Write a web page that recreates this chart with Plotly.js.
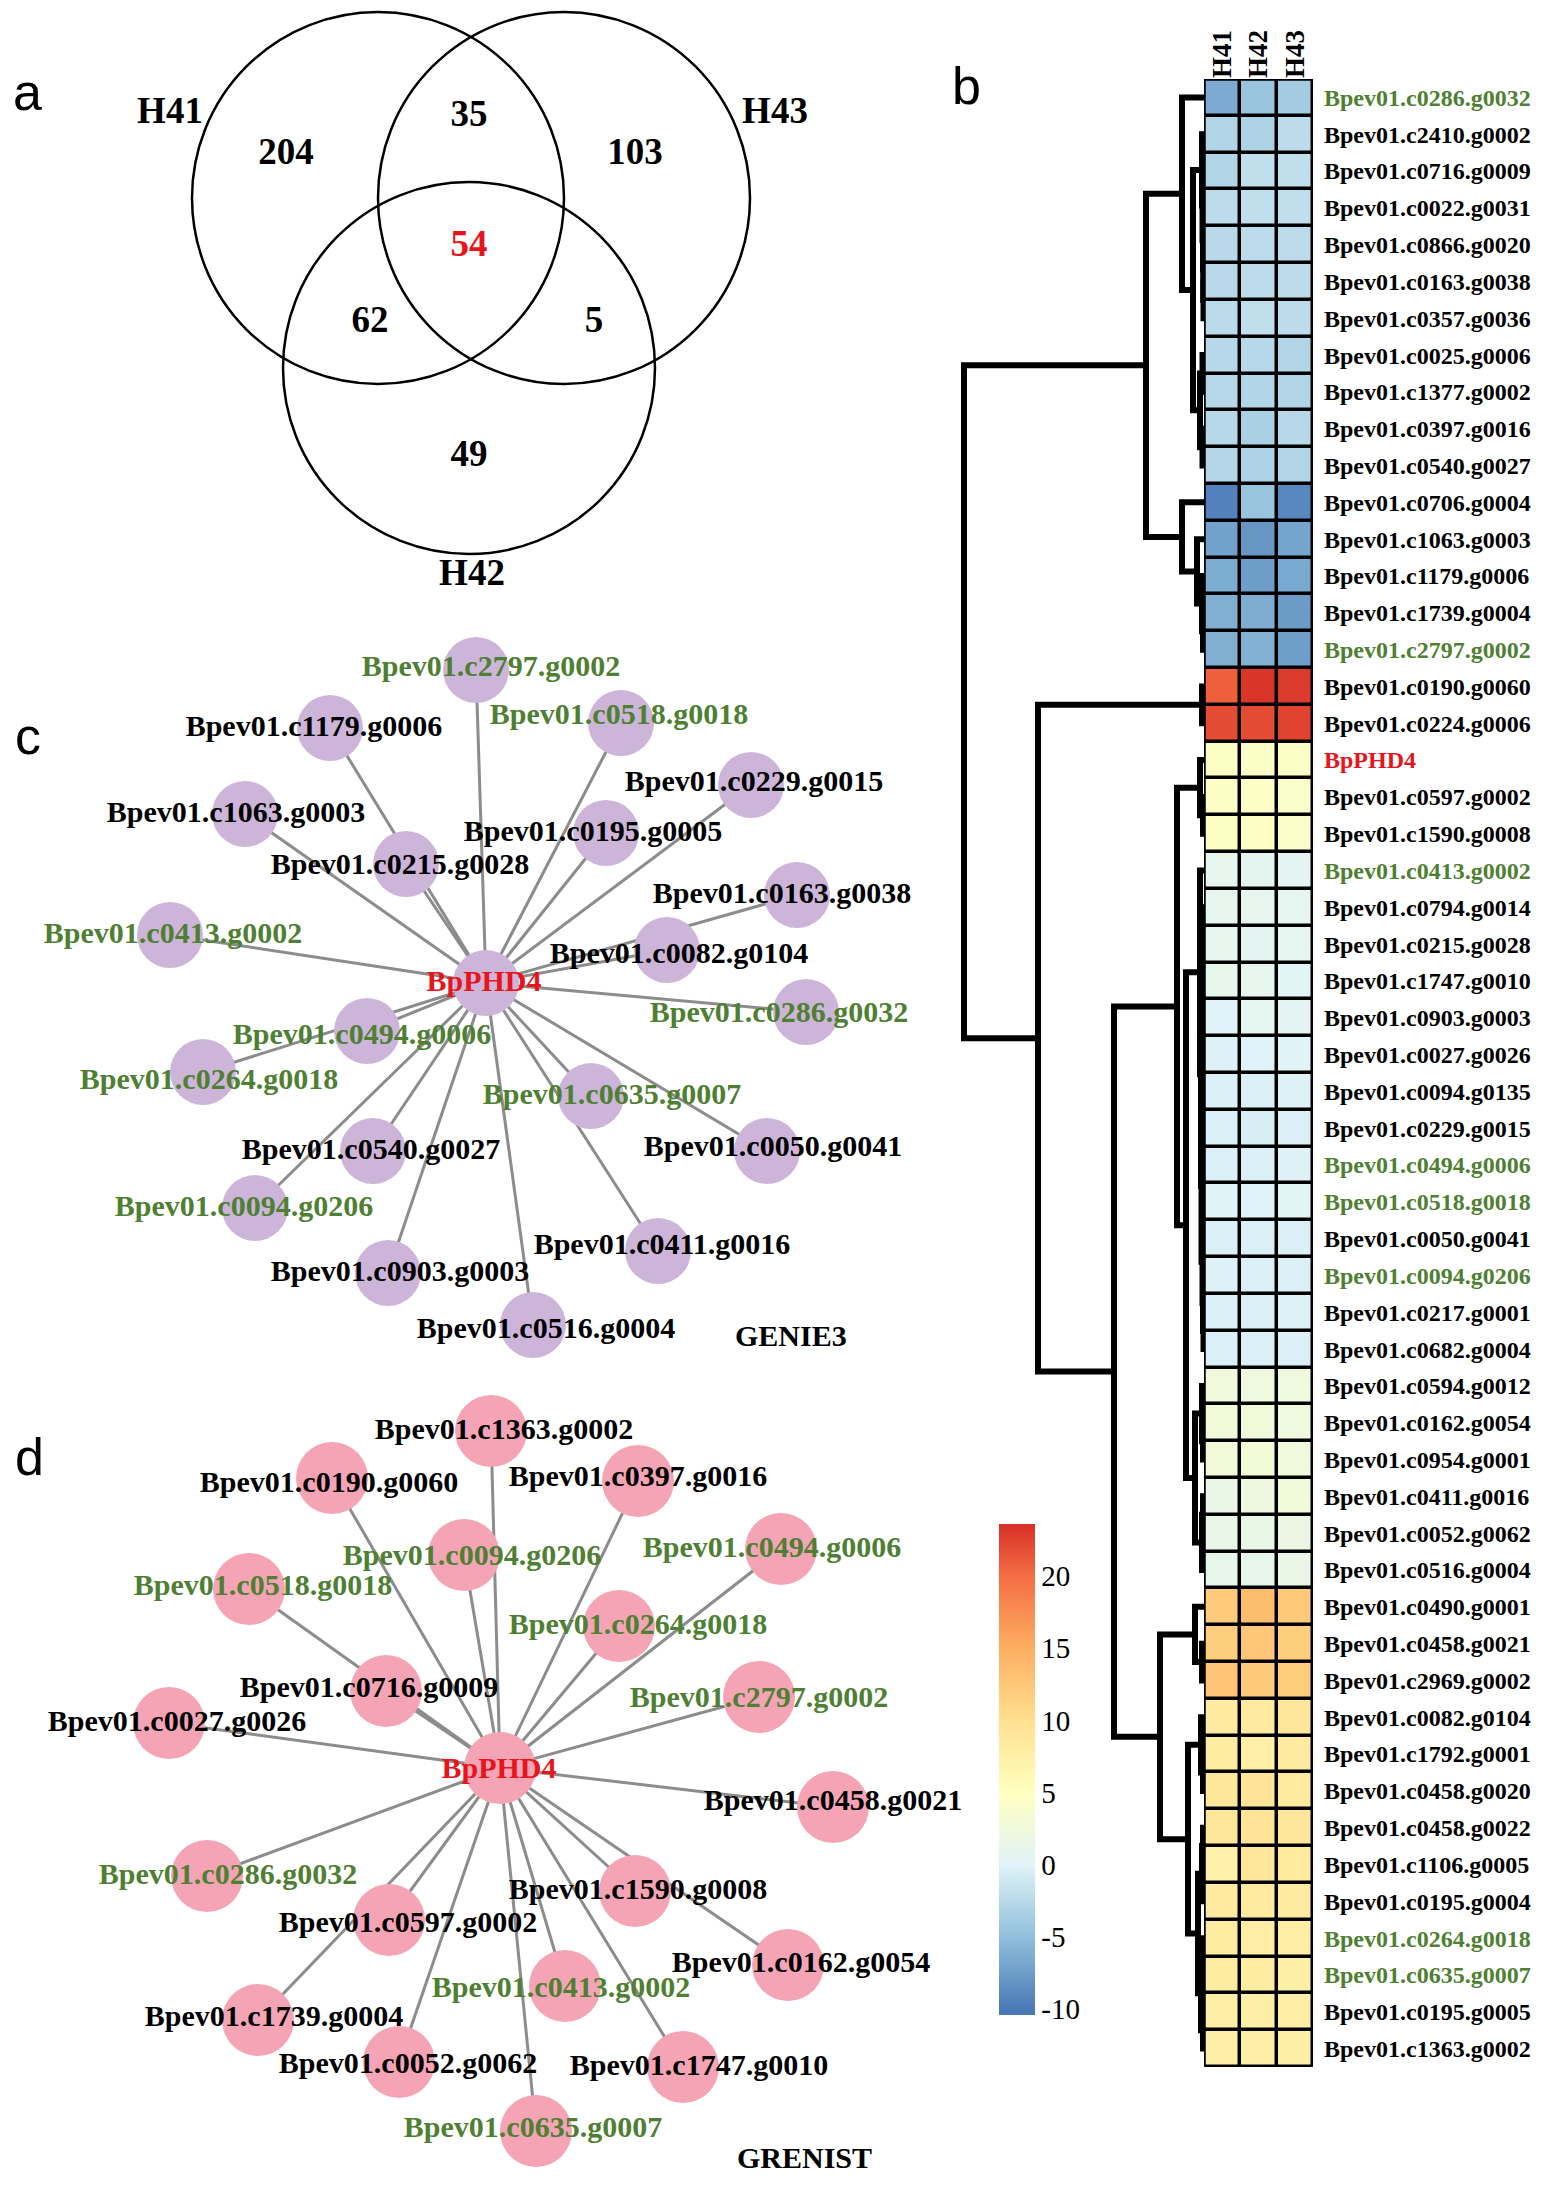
<!DOCTYPE html>
<html><head><meta charset="utf-8">
<script src="https://cdn.plot.ly/plotly-3.0.1.min.js"></script>
<style>html,body{margin:0;padding:0;background:#fff}#fig{width:1546px;height:2185px}</style>
</head><body><div id="fig"></div>
<script>
// ================= DATA =================
// Venn (panel a)
const vennSets = ['H41', 'H43', 'H42'];
const vennRegions = ['H41', 'H43', 'H42', 'H41&H43', 'H41&H42', 'H42&H43', 'H41&H42&H43'];
const vennCounts = [204, 103, 49, 35, 62, 5, 54];

// Heatmap (panel b)
const samples = ['H41', 'H42', 'H43'];
const genes = [
 'Bpev01.c0286.g0032','Bpev01.c2410.g0002','Bpev01.c0716.g0009','Bpev01.c0022.g0031','Bpev01.c0866.g0020',
 'Bpev01.c0163.g0038','Bpev01.c0357.g0036','Bpev01.c0025.g0006','Bpev01.c1377.g0002','Bpev01.c0397.g0016',
 'Bpev01.c0540.g0027','Bpev01.c0706.g0004','Bpev01.c1063.g0003','Bpev01.c1179.g0006','Bpev01.c1739.g0004',
 'Bpev01.c2797.g0002','Bpev01.c0190.g0060','Bpev01.c0224.g0006','BpPHD4','Bpev01.c0597.g0002',
 'Bpev01.c1590.g0008','Bpev01.c0413.g0002','Bpev01.c0794.g0014','Bpev01.c0215.g0028','Bpev01.c1747.g0010',
 'Bpev01.c0903.g0003','Bpev01.c0027.g0026','Bpev01.c0094.g0135','Bpev01.c0229.g0015','Bpev01.c0494.g0006',
 'Bpev01.c0518.g0018','Bpev01.c0050.g0041','Bpev01.c0094.g0206','Bpev01.c0217.g0001','Bpev01.c0682.g0004',
 'Bpev01.c0594.g0012','Bpev01.c0162.g0054','Bpev01.c0954.g0001','Bpev01.c0411.g0016','Bpev01.c0052.g0062',
 'Bpev01.c0516.g0004','Bpev01.c0490.g0001','Bpev01.c0458.g0021','Bpev01.c2969.g0002','Bpev01.c0082.g0104',
 'Bpev01.c1792.g0001','Bpev01.c0458.g0020','Bpev01.c0458.g0022','Bpev01.c1106.g0005','Bpev01.c0195.g0004',
 'Bpev01.c0264.g0018','Bpev01.c0635.g0007','Bpev01.c0195.g0005','Bpev01.c1363.g0002'];
const h41 = [-6.5,-3.0,-3.0,-2.2,-2.5,-2.5,-2.4,-2.6,-2.7,-2.6,-2.8,
 -9.5,-7.2,-6.4,-6.2,-6.2, 20.8,22.0, 4.6,4.5,4.7,
 1.0,0.9,1.0,1.2,0.0,-0.2,-0.4,-0.4,-0.4,0.2,-0.3,-0.2,-0.4,-0.4,
 2.5,2.6,2.7,1.6,1.4,1.2, 12.2,11.8,12.8,
 8.2,8.0,8.8,9.0,7.2,8.2,8.0,8.1,7.8,7.9];
const h42 = [-4.5,-3.2,-2.0,-2.0,-2.3,-2.2,-2.0,-2.6,-2.9,-3.4,-3.2,
 -4.5,-8.0,-7.5,-6.3,-6.0, 23.3,22.0, 4.4,4.5,4.6,
 0.7,1.0,0.6,1.0,0.8,-0.1,-0.3,-0.5,-0.3,0.0,-0.4,-0.4,-0.4,-0.3,
 2.4,2.6,3.0,2.2,1.5,1.2, 13.5,12.6,12.3,
 8.4,7.4,9.3,9.4,8.8,8.4,7.8,8.0,7.6,7.6];
const h43 = [-3.8,-2.2,-2.0,-2.0,-2.2,-2.2,-2.2,-3.0,-3.0,-2.6,-3.0,
 -9.0,-7.0,-6.6,-7.6,-7.4, 23.0,22.5, 4.3,4.0,4.2,
 0.6,0.8,0.8,0.4,0.6,0.2,-0.2,-0.3,-0.2,0.3,-0.3,-0.3,-0.2,-0.3,
 2.3,2.4,2.5,2.6,1.8,1.6, 12.3,11.8,12.0,
 8.8,8.2,8.4,8.8,8.6,8.2,7.9,7.6,7.8,7.6];
const colorTickVals = [-10, -5, 0, 5, 10, 15, 20];
const colorTickText = ['-10', '-5', '0', '5', '10', '15', '20'];
// Row dendrogram: [mergeHeight, left, right]; leaves are row indices
const dendroTree = [240,
  [58,
    [22, 0, [11, [2, 1, [1.5, 2, [1, 3, [0.8, 4, [0.5, 5, 6]]]]], [4, [1.5, 7, 8], [1.5, 9, 10]]]],
    [22, 11, [7, 12, [2, 13, [1, 14, 15]]]]
  ],
  [166,
    [2, 16, 17],
    [90,
      [27,
        [4, 18, [1, 19, 20]],
        [18,
          [4, 21, [3, [2, [1, 22, 23], [1, 24, 25]], [2.5, [1.5, [1, 26, 27], [1, 28, 29]], [1.5, [1, 30, 31], [1, 32, [0.5, 33, 34]]]]]],
          [9, [2, 35, [1, 36, 37]], [2, [1, 38, 39], 40]]
        ]
      ],
      [44,
        [9, 41, [2, 42, 43]],
        [16, [3, 44, [1, 45, 46]], [6, [2, [1, 47, 48], 49], [3, [1, 50, 51], [1, 52, 53]]]]
      ]
    ]
  ]
];

// Networks (panels c, d)
const hubGene = 'BpPHD4';
const genieTargets = ['Bpev01.c2797.g0002','Bpev01.c1179.g0006','Bpev01.c0518.g0018','Bpev01.c0229.g0015',
 'Bpev01.c1063.g0003','Bpev01.c0195.g0005','Bpev01.c0215.g0028','Bpev01.c0163.g0038','Bpev01.c0413.g0002',
 'Bpev01.c0082.g0104','Bpev01.c0286.g0032','Bpev01.c0494.g0006','Bpev01.c0264.g0018','Bpev01.c0635.g0007',
 'Bpev01.c0540.g0027','Bpev01.c0050.g0041','Bpev01.c0094.g0206','Bpev01.c0411.g0016','Bpev01.c0903.g0003',
 'Bpev01.c0516.g0004'];
const grenistTargets = ['Bpev01.c1363.g0002','Bpev01.c0190.g0060','Bpev01.c0397.g0016','Bpev01.c0094.g0206',
 'Bpev01.c0494.g0006','Bpev01.c0518.g0018','Bpev01.c0264.g0018','Bpev01.c0716.g0009','Bpev01.c2797.g0002',
 'Bpev01.c0027.g0026','Bpev01.c0458.g0021','Bpev01.c0286.g0032','Bpev01.c1590.g0008','Bpev01.c0597.g0002',
 'Bpev01.c0162.g0054','Bpev01.c0413.g0002','Bpev01.c1739.g0004','Bpev01.c0052.g0062','Bpev01.c1747.g0010',
 'Bpev01.c0635.g0007'];

// ================= LAYOUT / STYLE =================
const W = 1546, H = 2185;
const serif = '"Liberation Serif", "Times New Roman", serif';
const sans = '"Liberation Sans", Arial, sans-serif';
const GREEN = '#4f7f33', RED = '#e8141c';

// node layout (page pixels): name -> [nodeX, nodeY, labelX, labelY]
const genieLayout = {
 'BpPHD4':[486,983,484,983],
 'Bpev01.c2797.g0002':[476,670,491,668], 'Bpev01.c1179.g0006':[330,728,314,728],
 'Bpev01.c0518.g0018':[621,723,619,716], 'Bpev01.c0229.g0015':[751,785,754,783],
 'Bpev01.c1063.g0003':[245,814,236,814], 'Bpev01.c0195.g0005':[606,833,593,833],
 'Bpev01.c0215.g0028':[406,864,400,866], 'Bpev01.c0163.g0038':[797,895,782,895],
 'Bpev01.c0413.g0002':[170,935,173,935], 'Bpev01.c0082.g0104':[667,950,679,955],
 'Bpev01.c0286.g0032':[806,1012,779,1014], 'Bpev01.c0494.g0006':[367,1031,362,1036],
 'Bpev01.c0264.g0018':[203,1072,209,1081], 'Bpev01.c0635.g0007':[591,1096,612,1096],
 'Bpev01.c0540.g0027':[373,1151,371,1151], 'Bpev01.c0050.g0041':[767,1151,773,1148],
 'Bpev01.c0094.g0206':[255,1208,244,1208], 'Bpev01.c0411.g0016':[658,1251,662,1246],
 'Bpev01.c0903.g0003':[388,1273,400,1273], 'Bpev01.c0516.g0004':[533,1325,546,1330]
};
const grenistLayout = {
 'BpPHD4':[500,1768,499,1770],
 'Bpev01.c1363.g0002':[491,1431,504,1431], 'Bpev01.c0190.g0060':[332,1478,329,1484],
 'Bpev01.c0397.g0016':[638,1481,638,1478], 'Bpev01.c0094.g0206':[464,1555,472,1557],
 'Bpev01.c0494.g0006':[781,1549,772,1549], 'Bpev01.c0518.g0018':[249,1589,263,1587],
 'Bpev01.c0264.g0018':[619,1626,638,1626], 'Bpev01.c0716.g0009':[386,1691,369,1689],
 'Bpev01.c2797.g0002':[759,1697,759,1699], 'Bpev01.c0027.g0026':[169,1723,177,1723],
 'Bpev01.c0458.g0021':[833,1807,833,1802], 'Bpev01.c0286.g0032':[207,1876,228,1876],
 'Bpev01.c1590.g0008':[635,1891,638,1891], 'Bpev01.c0597.g0002':[389,1920,408,1924],
 'Bpev01.c0162.g0054':[788,1965,801,1964], 'Bpev01.c0413.g0002':[565,1986,561,1989],
 'Bpev01.c1739.g0004':[258,2020,274,2018], 'Bpev01.c0052.g0062':[399,2062,408,2065],
 'Bpev01.c1747.g0010':[683,2067,699,2067], 'Bpev01.c0635.g0007':[536,2131,533,2129]
};
const vennCircles = {H41:[378,198,186], H43:[564,198,186], H42:[469,368,186]};
const vennSetLabelPos = {H41:[170,114], H43:[775,114], H42:[472,576]};
const vennRegionPos = {'H41':[286,155],'H43':[635,155],'H42':[469,457],'H41&H43':[469,117],
  'H41&H42':[370,323],'H42&H43':[594,323],'H41&H42&H43':[469,247]};

// heatmap geometry in page pixels
const HM = {x0:1204, x1:1313, y0:79, y1:2067};
const DENDRO_X0 = 960;

// ================= BUILD =================
const shared = new Set(genieTargets.filter(g => grenistTargets.includes(g)));
const labelColor = g => g === hubGene ? RED : (shared.has(g) ? GREEN : '#000000');

const traces = [];

// ---- Venn
traces.push({
  type:'scatter', mode:'text', xaxis:'x', yaxis:'y',
  x: vennRegions.map(r => vennRegionPos[r][0]), y: vennRegions.map(r => vennRegionPos[r][1]),
  text: vennCounts.map(String),
  textfont:{family:serif, size:37, weight:'bold', color: vennRegions.map(r => r === 'H41&H42&H43' ? RED : '#000')},
  textposition:'middle center', hoverinfo:'skip', cliponaxis:false
});
traces.push({
  type:'scatter', mode:'text', xaxis:'x', yaxis:'y',
  x: vennSets.map(s => vennSetLabelPos[s][0]), y: vennSets.map(s => vennSetLabelPos[s][1]),
  text: vennSets, textfont:{family:serif, size:37, weight:'bold', color:'#000'},
  textposition:'middle center', hoverinfo:'skip', cliponaxis:false
});

// ---- Networks
function network(targets, lay, nodeColor, nodeSize) {
  const ex = [], ey = [];
  const hub = lay[hubGene];
  targets.forEach(t => { ex.push(hub[0], lay[t][0], null); ey.push(hub[1], lay[t][1], null); });
  traces.push({type:'scatter', mode:'lines', xaxis:'x', yaxis:'y', x:ex, y:ey,
    line:{color:'#8c8c8c', width:3}, hoverinfo:'skip'});
  const all = [hubGene].concat(targets);
  traces.push({type:'scatter', mode:'markers', xaxis:'x', yaxis:'y',
    x: all.map(n => lay[n][0]), y: all.map(n => lay[n][1]),
    marker:{size:nodeSize, color:nodeColor, line:{width:0}}, hoverinfo:'skip', cliponaxis:false});
  traces.push({type:'scatter', mode:'text', xaxis:'x', yaxis:'y',
    x: all.map(n => lay[n][2]), y: all.map(n => lay[n][3]), text: all,
    textfont:{family:serif, size:30, weight:'bold', color: all.map(labelColor)},
    textposition:'middle center', hoverinfo:'skip', cliponaxis:false});
}
network(genieTargets, genieLayout, '#cdb5da', 66);
network(grenistTargets, grenistLayout, '#f5a4b6', 72);

// ---- Heatmap
const rowIdx = genes.map((g, i) => i);
const zmin = -10.4, zmax = 23.6;
const stops = [[-10.4,'#4575b4'],[-5,'#91bfdb'],[0,'#e0f3f8'],[5,'#ffffbf'],[10,'#fee090'],[15,'#fdae61'],[20,'#f46d43'],[23.6,'#d73027']];
const colorscale = stops.map(([v, c]) => [(v - zmin) / (zmax - zmin), c]);
traces.push({
  type:'heatmap', xaxis:'x2', yaxis:'y2',
  x: samples, y: rowIdx, z: genes.map((g, i) => [h41[i], h42[i], h43[i]]),
  zmin, zmax, colorscale, xgap:3.5, ygap:3.5, hoverinfo:'skip',
  colorbar:{x: 999 / W, xanchor:'left', y: 1 - 1769.5 / H, yanchor:'middle',
    len: 491, lenmode:'pixels', thickness: 36, thicknessmode:'pixels', outlinewidth:0,
    xpad:0, ypad:0, ticks:'', tickvals: colorTickVals, ticktext: colorTickText, ticklabelpad: 4,
    tickfont:{family:serif, size:29, color:'#000'}}
});

// ---- Dendrogram
const dx = [], dy = [];
function walk(node) {
  if (typeof node === 'number') return {h:0, y:node};
  const [h, a, b] = node;
  const A = walk(a), B = walk(b);
  dx.push(A.h, h, h, B.h, null); dy.push(A.y, A.y, B.y, B.y, null);
  return {h, y:(A.y + B.y) / 2};
}
walk(dendroTree);
traces.push({type:'scatter', mode:'lines', xaxis:'x3', yaxis:'y3', x:dx, y:dy,
  line:{color:'#000', width:6}, hoverinfo:'skip'});

// ---- Panel letters / method labels (annotations)
const annotations = [
  ['a', 28, 92], ['b', 966, 86], ['c', 28, 736], ['d', 29, 1457]
].map(([t, x, y]) => ({text:t, x: x / W, y: 1 - y / H, xref:'paper', yref:'paper', showarrow:false,
  xanchor:'center', yanchor:'middle', font:{family:sans, size:52, color:'#000'}}));
annotations.push(
  {text:'GENIE3', x: 791 / W, y: 1 - 1335 / H, xref:'paper', yref:'paper', showarrow:false,
   xanchor:'center', yanchor:'middle', font:{family:serif, size:30, weight:'bold', color:'#000'}},
  {text:'GRENIST', x: 804 / W, y: 1 - 2157 / H, xref:'paper', yref:'paper', showarrow:false,
   xanchor:'center', yanchor:'middle', font:{family:serif, size:30, weight:'bold', color:'#000'}}
);

const shapes = [];
vennSets.forEach(s => {
  const [cx, cy, r] = vennCircles[s];
  shapes.push({type:'circle', xref:'x', yref:'y', x0:cx - r, x1:cx + r, y0:cy - r, y1:cy + r,
    line:{color:'#000', width:2.5}, fillcolor:'rgba(0,0,0,0)'});
});
shapes.push({type:'rect', xref:'x2', yref:'y2', x0:-0.5, x1:2.5, y0:-0.5, y1:genes.length - 0.5,
  fillcolor:'#000', line:{width:0}, layer:'below'});
shapes.push({type:'rect', xref:'x2', yref:'y2', x0:-0.5, x1:2.5, y0:-0.5, y1:genes.length - 0.5,
  fillcolor:'rgba(0,0,0,0)', line:{color:'#000', width:3.5}, layer:'above'});

const hidden = {showgrid:false, zeroline:false, showticklabels:false, ticks:'', showline:false, fixedrange:true};
const yDom = [1 - HM.y1 / H, 1 - HM.y0 / H];
const layout = {
  width: W, height: H, margin:{l:0, r:0, t:0, b:0, pad:0},
  paper_bgcolor:'#fff', plot_bgcolor:'rgba(0,0,0,0)', showlegend:false, hovermode:false,
  xaxis: Object.assign({domain:[0, 1], range:[0, W]}, hidden),
  yaxis: Object.assign({domain:[0, 1], range:[H, 0]}, hidden),
  xaxis2: {domain:[HM.x0 / W, HM.x1 / W], anchor:'y2', range:[-0.5, 2.5], side:'top',
    type:'category', tickangle:-90, ticks:'', showgrid:false, zeroline:false, showline:false, fixedrange:true,
    tickfont:{family:serif, size:27, weight:'bold', color:'#000'}},
  yaxis2: {domain:yDom, anchor:'x2', range:[genes.length - 0.5, -0.5], side:'right',
    tickvals: rowIdx,
    ticktext: genes.map(g => `<span style="color:${labelColor(g)}">${g}</span>`),
    ticks:'', ticklabelstandoff: 10, showgrid:false, zeroline:false, showline:false, fixedrange:true,
    tickfont:{family:serif, size:24, weight:'bold', color:'#000'}},
  xaxis3: Object.assign({domain:[DENDRO_X0 / W, HM.x0 / W], anchor:'y3', range:[HM.x0 - DENDRO_X0, 0]}, hidden),
  yaxis3: Object.assign({domain:yDom, anchor:'x3', range:[genes.length - 0.5, -0.5]}, hidden),
  shapes, annotations
};
Plotly.newPlot('fig', traces, layout, {staticPlot:true, displayModeBar:false});
</script></body></html>
